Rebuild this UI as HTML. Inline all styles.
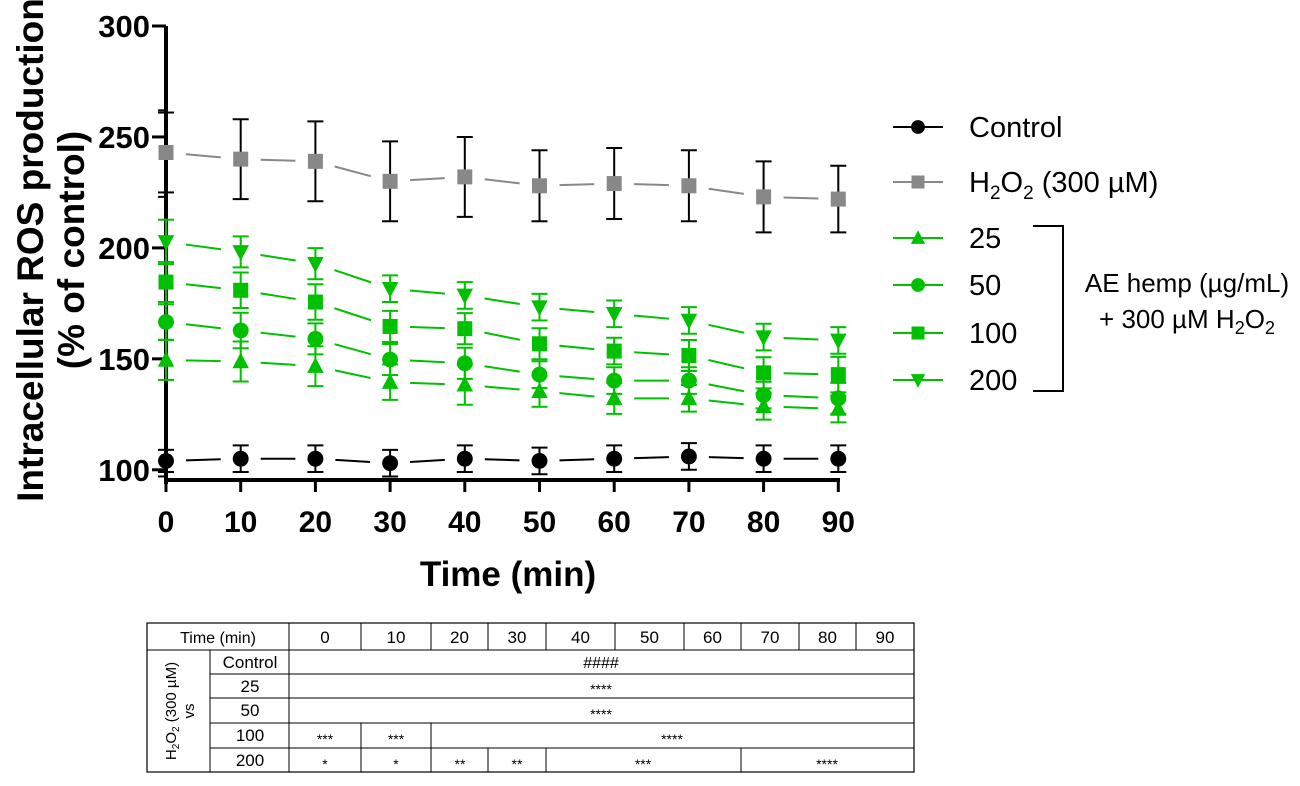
<!DOCTYPE html>
<html><head><meta charset="utf-8"><style>
body{margin:0;background:#fff;width:1300px;height:781px;overflow:hidden}
svg text{font-family:"Liberation Sans",Arial,sans-serif}
#table text{font-family:"Liberation Sans Narrow","Liberation Sans",Arial,sans-serif}
</style></head><body>
<svg id="chart" width="1300" height="781" viewBox="0 0 1300 781" xmlns="http://www.w3.org/2000/svg">
<g id="axes"></g><g id="series"></g><g id="legend"></g><g id="table"></g>
</svg>
<script>
const times=[0,10,20,30,40,50,60,70,80,90];
const controlVals=[104,105,105,103,105,104,105,106,105,105];
const controlErr=[5,6,6,6,6,6,6,6,6,6];
const h2o2Vals=[243,240,239,230,232,228,229,228,223,222];
const h2o2Err=[18,18,18,18,18,16,16,16,16,15];
const d25Vals=[149.5,148.8,146.7,139.5,138.3,135.4,132.2,132.2,128.6,127.4];
const d25Err=[9,9,9,8,9,7,7,6,6,6];
const d50Vals=[166.6,162.8,159,149.7,148,142.9,140.2,140.2,133.7,132.2];
const d50Err=[8,8,7,7,7,6,6,6,6,7];
const d100Vals=[184.6,180.9,175.6,164.6,163.6,156.8,153.5,151.5,143.7,142.9];
const d100Err=[9,8,8,7,7,7,6,7,7,8];
const d200Vals=[202.7,198.2,192.9,181.6,178.6,173.3,170.3,167.3,159.8,158.3];
const d200Err=[10,7,7,6,6,6,6,6,6,6];
const yTicks=[100,150,200,250,300];
const yMinor=[97,223,262];
const xTicks=[0,10,20,30,40,50,60,70,80,90];

const NS='http://www.w3.org/2000/svg';
const X=t=>166+t*7.47;
const Y=v=>26+(300-v)*2.219;
function mk(tag,attrs,parent,text){const e=document.createElementNS(NS,tag);for(const k in attrs)e.setAttribute(k,attrs[k]);if(text!==undefined)e.textContent=text;parent.appendChild(e);return e;}
const axes=document.getElementById('axes');
let e;
e=mk('line',{x1:166,y1:Y(300),x2:166,y2:484,stroke:'#000','stroke-width':4},axes);

e=mk('line',{x1:164,y1:480,x2:840,y2:480,stroke:'#000','stroke-width':4},axes);

yTicks.forEach(v=>{
 mk('line',{x1:152,y1:Y(v),x2:166,y2:Y(v),stroke:'#000','stroke-width':3},axes);
 e=mk('text',{x:150,y:Y(v)+11,'text-anchor':'end','font-size':31,'font-weight':'bold'},axes,String(v));
 
});
yMinor.forEach(v=>{mk('line',{x1:158,y1:Y(v),x2:166,y2:Y(v),stroke:'#000','stroke-width':2},axes);});
xTicks.forEach(t=>{
 mk('line',{x1:X(t),y1:480,x2:X(t),y2:492,stroke:'#000','stroke-width':3},axes);
 e=mk('text',{x:X(t),y:532,'text-anchor':'middle','font-size':30,'font-weight':'bold'},axes,String(t));
 
});
e=mk('text',{x:508,y:586,'text-anchor':'middle','font-size':35,'font-weight':'bold'},axes,'Time (min)');

const yt=mk('text',{'text-anchor':'middle','font-size':37,'font-weight':'bold'},axes);

mk('tspan',{x:-250,y:43},yt,'Intracellular ROS production');
mk('tspan',{x:-250,y:84},yt,'(% of control)');
yt.setAttribute('transform','rotate(-90)');

function marker(g,shape,x,y,color,s){
 if(shape==='circle')return mk('circle',{cx:x,cy:y,r:s*0.53,fill:color},g);
 if(shape==='square')return mk('rect',{x:x-s/2,y:y-s/2,width:s,height:s,fill:color},g);
 if(shape==='up')return mk('polygon',{points:`${x},${y-s*0.6} ${x-s*0.55},${y+s*0.45} ${x+s*0.55},${y+s*0.45}`,fill:color},g);
 return mk('polygon',{points:`${x},${y+s*0.6} ${x-s*0.55},${y-s*0.45} ${x+s*0.55},${y-s*0.45}`,fill:color},g);
}
const series=[
 {name:'control',vals:controlVals,err:controlErr,color:'#000',ecolor:'#000',shape:'circle'},
 {name:'h2o2',vals:h2o2Vals,err:h2o2Err,color:'#888',ecolor:'#000',shape:'square'},
 {name:'ae-25',vals:d25Vals,err:d25Err,color:'#00c000',ecolor:'#00c000',shape:'up'},
 {name:'ae-50',vals:d50Vals,err:d50Err,color:'#00c000',ecolor:'#00c000',shape:'circle'},
 {name:'ae-100',vals:d100Vals,err:d100Err,color:'#00c000',ecolor:'#00c000',shape:'square'},
 {name:'ae-200',vals:d200Vals,err:d200Err,color:'#00c000',ecolor:'#00c000',shape:'down'}
];
const sg=document.getElementById('series');
series.forEach(s=>{
 const g=mk('g',{},sg);
 
 
 for(let i=0;i<times.length-1;i++){
  const x1=X(times[i]),y1=Y(s.vals[i]),x2=X(times[i+1]),y2=Y(s.vals[i+1]);
  const dx=x2-x1,dy=y2-y1,L=Math.hypot(dx,dy),a=20/L,b=(L-20)/L;
  mk('line',{x1:x1+dx*a,y1:y1+dy*a,x2:x1+dx*b,y2:y1+dy*b,stroke:s.color,'stroke-width':2},g);
 }
 times.forEach((t,i)=>{
  const x=X(t),yt=Y(s.vals[i]+s.err[i]),yb=Y(s.vals[i]-s.err[i]);
  mk('line',{x1:x,y1:yt,x2:x,y2:yb,stroke:s.ecolor,'stroke-width':2},g);
  mk('line',{x1:x-8,y1:yt,x2:x+8,y2:yt,stroke:s.ecolor,'stroke-width':2},g);
  mk('line',{x1:x-8,y1:yb,x2:x+8,y2:yb,stroke:s.ecolor,'stroke-width':2},g);
  const m=marker(g,s.shape,x,Y(s.vals[i]),s.color,15);
  
  
 });
});
const lg=document.getElementById('legend');
const legRows=[[127,'#000','circle','Control'],[182,'#888','square',null],[238,'#00c000','up','25'],[285,'#00c000','circle','50'],[333,'#00c000','square','100'],[380,'#00c000','down','200']];
legRows.forEach(r=>{
 const g=mk('g',{},lg);
 
 
 mk('line',{x1:893,y1:r[0],x2:943,y2:r[0],stroke:r[1],'stroke-width':2},g);
 marker(g,r[2],918,r[0],r[1],13);
 const t=mk('text',{x:969,y:r[0]+10,'font-size':29},g,r[3]||'');
 if(!r[3]){mk('tspan',{},t,'H');mk('tspan',{'font-size':19,dy:7},t,'2');mk('tspan',{dy:-7},t,'O');mk('tspan',{'font-size':19,dy:7},t,'2');mk('tspan',{dy:-7},t,' (300 µM)');}
});
e=mk('polyline',{points:'1033,226 1063,226 1063,391 1033,391',fill:'none',stroke:'#000','stroke-width':2},lg);

e=mk('text',{x:1187,y:292,'text-anchor':'middle','font-size':26},lg,'AE hemp (µg/mL)');

const t2=mk('text',{x:1187,y:328,'text-anchor':'middle','font-size':26},lg);
mk('tspan',{},t2,'+ 300 µM H');mk('tspan',{'font-size':18,dy:6},t2,'2');mk('tspan',{dy:-6},t2,'O');mk('tspan',{'font-size':18,dy:6},t2,'2');
const tb=document.getElementById('table');

const cols=[147,210,289,361,431,488,546,615,684,741,799,856,914];
const rows=[623,650,674,698,723,748,772];
const L=(x1,y1,x2,y2)=>mk('line',{x1,y1,x2,y2,stroke:'#000','stroke-width':1},tb);
const T=(x,y,s,fs)=>mk('text',{x,y,'text-anchor':'middle','font-size':fs||16},tb,s);
mk('rect',{x:147,y:623,width:767,height:149,fill:'none',stroke:'#000','stroke-width':1.2},tb);
L(147,650,914,650);
for(let i=2;i<12;i++)L(cols[i],623,cols[i],650);
L(210,650,210,772);L(289,650,289,772);
for(let r=2;r<6;r++)L(210,rows[r],914,rows[r]);
T(218,643,'Time (min)');
['0','10','20','30','40','50','60','70','80','90'].forEach((s,i)=>T((cols[i+2]+cols[i+3])/2,643,s,17));
const lbl=['Control','25','50','100','200'];
lbl.forEach((s,i)=>T(250,rows[i+1]+18,s,17));
T(601,668,'####');T(601,694,'****',14);T(601,719,'****',14);
L(361,723,361,748);L(431,723,431,748);
T(325,744,'***',14);T(396,744,'***',14);T(672,744,'****',14);
[361,431,488,546,741].forEach(x=>L(x,748,x,772));
T(325,769,'*',14);T(396,769,'*',14);T(460,769,'**',14);T(517,769,'**',14);T(643,769,'***',14);T(827,769,'****',14);
const rl=mk('text',{transform:'rotate(-90)','text-anchor':'middle','font-size':15},tb);
rl.setAttribute('style','font-family:"Liberation Sans",sans-serif');
mk('tspan',{x:-711,y:176},rl,'H');mk('tspan',{'font-size':10,dy:3},rl,'2');mk('tspan',{dy:-3},rl,'O');mk('tspan',{'font-size':10,dy:3},rl,'2');mk('tspan',{dy:-3},rl,' (300 µM)');
mk('tspan',{x:-711,y:194},rl,'vs');
</script>
</body></html>
